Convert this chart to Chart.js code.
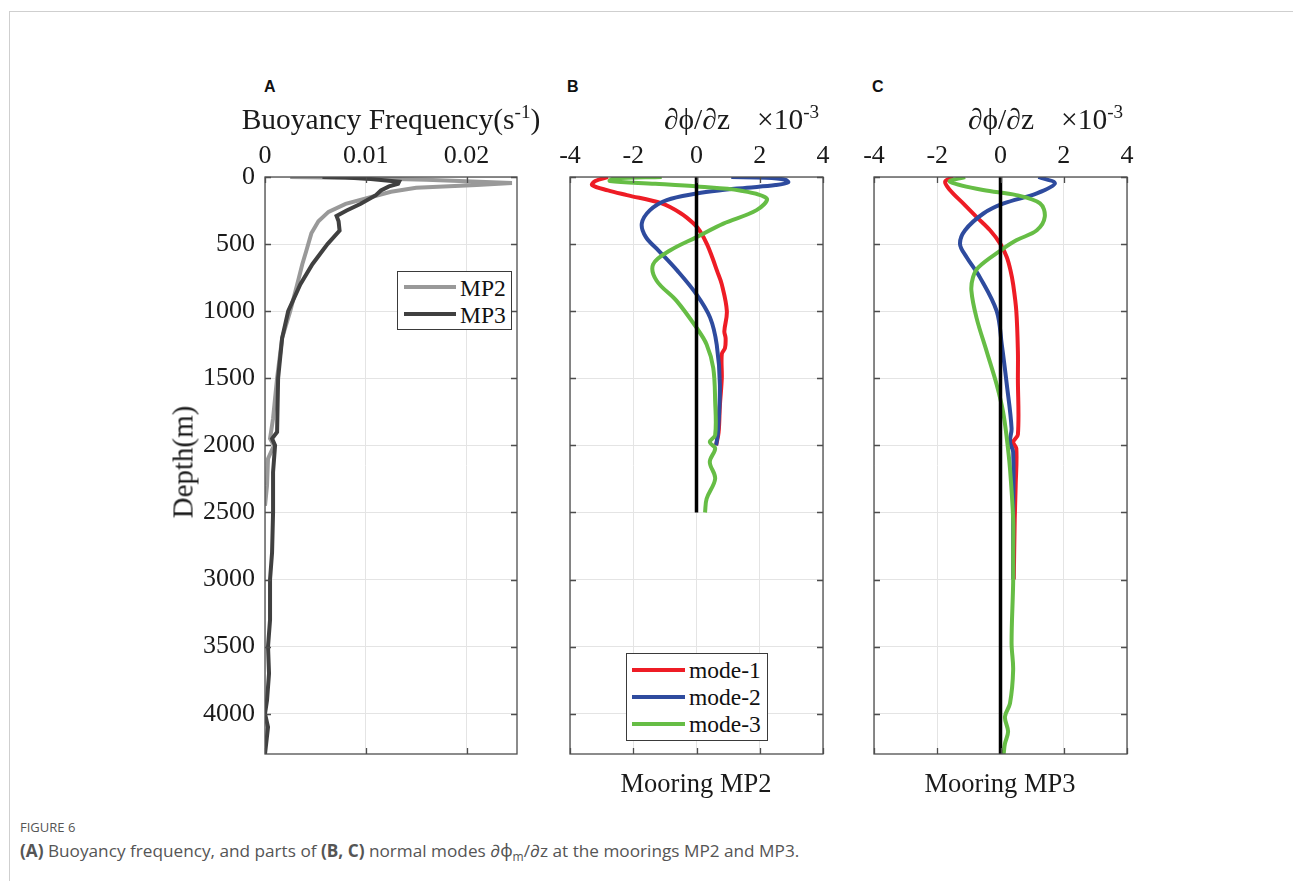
<!DOCTYPE html>
<html>
<head>
<meta charset="utf-8">
<script src="https://cdn.jsdelivr.net/npm/chart.js@4.4.0/dist/chart.umd.min.js"></script>
<style>
  body { margin: 0; background: #fff; width: 1293px; height: 881px; position: relative; overflow: hidden; }
  .frame { position: absolute; left: 9px; top: 11px; right: -2px; bottom: -2px; border-left: 1px solid #cfcfcf; border-top: 1px solid #cfcfcf; }
  canvas { position: absolute; }
  .t { position: absolute; font-family: "Liberation Serif", "Times New Roman", serif; color: #1a1a1a; white-space: nowrap; line-height: 1; }
  .lab { position: absolute; font-family: "Liberation Sans", Arial, sans-serif; font-weight: bold; font-size: 16px; color: #111; line-height: 1; }
  .leg { position: absolute; background: #fff; border: 1px solid #3a3a3a; box-sizing: border-box; }
  .leg div { position: absolute; height: 4px; }
  .leg span { position: absolute; font-family: "Liberation Serif", serif; font-size: 23.5px; line-height: 1; color: #111; }
  sup { font-size: 65%; vertical-align: 0; position: relative; top: -0.55em; }
  .cap { position: absolute; left: 20px; font-family: "Open Sans", "Noto Sans", sans-serif; color: #555; white-space: nowrap; line-height: 1; }
</style>
</head>
<body>
<div class="frame"></div>

<canvas id="chartA" width="397" height="654" style="left:150px;top:130px"></canvas>
<canvas id="chartB" width="313" height="654" style="left:540px;top:130px"></canvas>
<canvas id="chartC" width="313" height="654" style="left:844px;top:130px"></canvas>

<div class="lab" style="left:264px;top:79px">A</div>
<div class="lab" style="left:567px;top:79px">B</div>
<div class="lab" style="left:872px;top:79px">C</div>

<div class="t" style="left:391px;top:105px;font-size:29.5px;transform:translateX(-50%)">Buoyancy Frequency(s<sup>-1</sup>)</div>
<div class="t" style="left:697px;top:105px;font-size:29.5px;transform:translateX(-50%)">&#8706;&#981;/&#8706;z</div>
<div class="t" style="left:757px;top:105px;font-size:29.5px">&times;10<sup>-3</sup></div>
<div class="t" style="left:1001px;top:105px;font-size:29.5px;transform:translateX(-50%)">&#8706;&#981;/&#8706;z</div>
<div class="t" style="left:1061px;top:105px;font-size:29.5px">&times;10<sup>-3</sup></div>
<div class="t" style="left:183px;top:462px;font-size:29px;transform:translate(-50%,-50%) rotate(-90deg)">Depth(m)</div>
<div class="t" style="left:696px;top:770px;font-size:26.5px;transform:translateX(-50%)">Mooring MP2</div>
<div class="t" style="left:1000px;top:770px;font-size:26.5px;transform:translateX(-50%)">Mooring MP3</div>

<div class="leg" style="left:397px;top:271px;width:115px;height:59px">
  <div style="left:6px;top:13px;width:52px;background:#999999"></div>
  <span style="left:62px;top:5px">MP2</span>
  <div style="left:6px;top:40px;width:52px;background:#404040"></div>
  <span style="left:62px;top:32px">MP3</span>
</div>
<div class="leg" style="left:626px;top:653px;width:142px;height:88px">
  <div style="left:5px;top:14px;width:53px;background:#ee1c25"></div>
  <span style="left:62px;top:5px">mode-1</span>
  <div style="left:5px;top:41px;width:53px;background:#2e4b9e"></div>
  <span style="left:62px;top:32px">mode-2</span>
  <div style="left:5px;top:68px;width:53px;background:#66bd45"></div>
  <span style="left:62px;top:59px">mode-3</span>
</div>

<div class="cap" style="top:821px;font-size:13px">FIGURE 6</div>
<div class="cap" style="top:842px;font-size:17.2px"><b>(A)</b> Buoyancy frequency, and parts of <b>(B, C)</b> normal modes &#8706;&#981;<sub style="font-size:70%">m</sub>/&#8706;z at the moorings MP2 and MP3.</div>

<script>
// tick labels
const depthTicks = [0, 500, 1000, 1500, 2000, 2500, 3000, 3500, 4000];
const freqTicks = [0, 0.01, 0.02];
const modeTicks = [-4, -2, 0, 2, 4];

// panel A: buoyancy frequency (s^-1)
const mp2Depth = [0, 5, 20, 45, 60, 80, 110, 160, 200, 260, 330, 420, 550, 650, 800, 1000, 1200, 1500, 1800, 1950, 2000, 2100, 2300, 2450];
const mp2Freq  = [0.0025, 0.008, 0.016, 0.0245, 0.021, 0.015, 0.0125, 0.0100, 0.0080, 0.0063, 0.0053, 0.0046, 0.0041, 0.0037, 0.0032, 0.0025, 0.0017, 0.0012, 0.0008, 0.0005, 0.0009, 0.0003, 0.0002, 0.0];
const mp3Depth = [0, 3, 15, 35, 50, 70, 100, 135, 200, 250, 290, 330, 400, 500, 550, 650, 800, 1000, 1200, 1500, 1900, 1950, 2000, 2200, 2500, 2800, 3000, 3300, 3500, 3700, 3900, 4000, 4100, 4300];
const mp3Freq  = [0.0057, 0.0080, 0.0105, 0.0133, 0.0132, 0.0123, 0.0115, 0.0110, 0.0095, 0.0081, 0.0071, 0.0073, 0.0074, 0.0062, 0.0057, 0.0047, 0.0035, 0.0023, 0.0017, 0.0013, 0.0012, 0.0007, 0.0010, 0.0008, 0.0008, 0.0007, 0.0005, 0.0005, 0.0003, 0.0004, 0.0002, 0.0, 0.0003, 0.0];

// panel B: mooring MP2, dphi/dz (x1e-3)
const b1Depth = [0, 30, 60, 100, 135, 197, 270, 345, 400, 500, 600, 700, 800, 1000, 1150, 1200, 1275, 1320, 1500, 1700, 1900, 2000];
const b1Val   = [-2.8, -3.2, -3.3, -2.8, -2.2, -1.1, -0.5, -0.1, 0.1, 0.33, 0.5, 0.65, 0.8, 0.96, 0.88, 0.92, 0.9, 0.8, 0.8, 0.74, 0.7, 0.62];
const b2Depth = [0, 5, 20, 40, 60, 80, 100, 123, 172, 247, 347, 448, 548, 700, 875, 1048, 1250, 1550, 1900, 2000];
const b2Val   = [1.1, 2.2, 2.8, 2.9, 2.5, 1.6, 0.7, 0.0, -0.94, -1.47, -1.73, -1.6, -1.2, -0.6, 0.0, 0.43, 0.64, 0.74, 0.68, 0.62];
const b3Depth = [0, 10, 30, 50, 72, 100, 160, 247, 347, 448, 548, 650, 773, 923, 1123, 1248, 1423, 1673, 1923, 1975, 2023, 2123, 2248, 2398, 2500];
const b3Val   = [-1.1, -2.6, -2.74, -1.3, 0.1, 1.37, 2.22, 1.9, 0.85, 0.0, -0.84, -1.37, -1.26, -0.63, 0.0, 0.32, 0.53, 0.59, 0.59, 0.42, 0.59, 0.42, 0.59, 0.32, 0.27];
const bZeroDepth = [0, 2500];

// panel C: mooring MP3, dphi/dz (x1e-3)
const c1Depth = [0, 35, 97, 197, 297, 397, 500, 598, 700, 800, 1000, 1300, 1500, 1920, 1975, 2023, 2300, 2550, 3000];
const c1Val   = [-1.5, -1.75, -1.6, -1.18, -0.76, -0.33, 0.0, 0.2, 0.32, 0.4, 0.5, 0.55, 0.55, 0.55, 0.4, 0.5, 0.48, 0.45, 0.42];
const c2Depth = [0, 47, 122, 197, 272, 397, 500, 598, 748, 1000, 1248, 1548, 1873, 1975, 2048, 2548, 3000];
const c2Val   = [1.2, 1.72, 1.15, 0.1, -0.54, -1.12, -1.28, -1.07, -0.65, -0.12, 0.04, 0.2, 0.35, 0.3, 0.4, 0.4, 0.4];
const c3Depth = [0, 35, 97, 135, 197, 297, 397, 472, 548, 673, 748, 848, 1048, 1298, 1548, 1748, 1948, 2173, 2548, 2798, 3023, 3473, 3673, 3923, 4023, 4133, 4223, 4300];
const c3Val   = [-1.12, -1.6, -0.55, 0.5, 1.25, 1.4, 1.15, 0.5, 0.0, -0.7, -0.87, -0.92, -0.76, -0.44, -0.12, 0.08, 0.2, 0.3, 0.4, 0.4, 0.4, 0.35, 0.4, 0.3, 0.14, 0.24, 0.14, 0.1];
const cZeroDepth = [0, 4300];

function pts(xs, ys) {
    return xs.map((v, i) => ({ x: v, y: ys[i] }));
}

function line(data, color, width, tension) {
    return { data: data, borderColor: color, borderWidth: width, pointRadius: 0, showLine: true, fill: false, tension: tension };
}

// axes box with inward ticks on all four sides, like matlab
const boxPlugin = {
    id: 'box',
    afterDraw(chart) {
        const { ctx, chartArea: a, scales } = chart;
        const t = 6;
        ctx.save();
        ctx.strokeStyle = '#4d4d4d';
        ctx.lineWidth = 1.3;
        ctx.beginPath();
        scales.x.ticks.forEach(tk => {
            const px = Math.round(scales.x.getPixelForValue(tk.value)) + 0.5;
            ctx.moveTo(px, a.top); ctx.lineTo(px, a.top + t);
            ctx.moveTo(px, a.bottom); ctx.lineTo(px, a.bottom - t);
        });
        scales.y.ticks.forEach(tk => {
            const py = Math.round(scales.y.getPixelForValue(tk.value)) + 0.5;
            ctx.moveTo(a.left, py); ctx.lineTo(a.left + t, py);
            ctx.moveTo(a.right, py); ctx.lineTo(a.right - t, py);
        });
        ctx.stroke();
        ctx.strokeRect(a.left, a.top, a.right - a.left, a.bottom - a.top);
        ctx.restore();
    }
};

const tickFont = { family: 'Liberation Serif', size: 26 };

function makeChart(id, datasets, xMin, xMax, xTicks, yAxisWidth, showDepth) {
    return new Chart(document.getElementById(id), {
        type: 'scatter',
        data: { datasets: datasets },
        plugins: [boxPlugin],
        options: {
            responsive: false,
            animation: false,
            devicePixelRatio: 1,
            layout: { padding: { left: 0, top: 0, right: 30, bottom: 30 } },
            plugins: { legend: { display: false }, tooltip: { enabled: false } },
            scales: {
                x: {
                    type: 'linear',
                    position: 'top',
                    min: xMin,
                    max: xMax,
                    afterBuildTicks: s => { s.ticks = xTicks.map(v => ({ value: v })); },
                    afterFit: s => { s.height = 47; },
                    grid: { color: '#e4e4e4', lineWidth: 1, drawTicks: false },
                    border: { display: false },
                    ticks: { font: tickFont, color: '#1a1a1a', padding: 5, maxRotation: 0,
                             callback: v => String(v) }
                },
                y: {
                    type: 'linear',
                    reverse: true,
                    min: 0,
                    max: 4300,
                    afterBuildTicks: s => { s.ticks = depthTicks.map(v => ({ value: v })); },
                    afterFit: s => { s.width = yAxisWidth; },
                    grid: { color: '#e4e4e4', lineWidth: 1, drawTicks: false },
                    border: { display: false },
                    ticks: { display: showDepth, font: tickFont, color: '#1a1a1a', padding: 10,
                             callback: v => String(v) }
                }
            }
        }
    });
}

// first dataset is painted last (on top)
makeChart('chartA', [
    line(pts(mp3Freq, mp3Depth), '#404040', 4, 0),
    line(pts(mp2Freq, mp2Depth), '#999999', 4, 0)
], 0, 0.025, freqTicks, 115, true);

makeChart('chartB', [
    line(pts([0, 0], bZeroDepth), '#000000', 3.5, 0),
    line(pts(b3Val, b3Depth), '#66bd45', 4, 0.35),
    line(pts(b2Val, b2Depth), '#2e4b9e', 4, 0.35),
    line(pts(b1Val, b1Depth), '#ee1c25', 4, 0.35)
], -4, 4, modeTicks, 30, false);

makeChart('chartC', [
    line(pts([0, 0], cZeroDepth), '#000000', 3.5, 0),
    line(pts(c3Val, c3Depth), '#66bd45', 4, 0.35),
    line(pts(c2Val, c2Depth), '#2e4b9e', 4, 0.35),
    line(pts(c1Val, c1Depth), '#ee1c25', 4, 0.35)
], -4, 4, modeTicks, 30, false);
</script>
</body>
</html>
